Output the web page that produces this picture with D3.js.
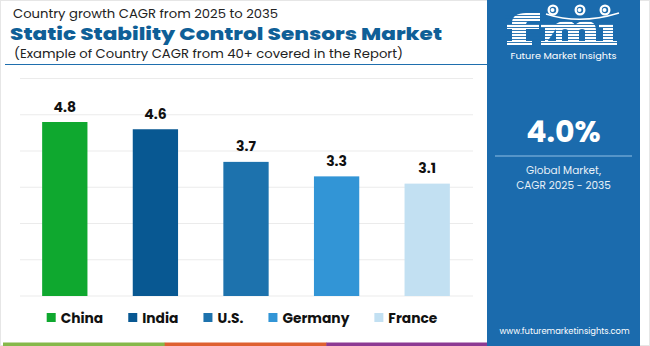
<!DOCTYPE html>
<html><head><meta charset="utf-8">
<script src="https://cdn.jsdelivr.net/npm/d3@7"></script>
<style>
html,body{margin:0;padding:0;background:#fff;}
svg{display:block;}
text{font-family:Poppins,Inter,"Open Sans",sans-serif;}
</style></head>
<body><svg id="c" width="650" height="346"></svg>
<script>
const categories = ["China", "India", "U.S.", "Germany", "France"];
const values = [4.8, 4.6, 3.7, 3.3, 3.1];
const colors = ["#0fa82f", "#085892", "#1d72ad", "#3295d6", "#c2e0f2"];
const yTicks = [0, 1, 2, 3, 4, 5, 6];
const titleTop = "Country growth CAGR from 2025 to 2035";
const title = "Static Stability Control Sensors Market";
const subtitle = "(Example of Country CAGR from 40+ covered in the Report)";
const globalValue = "4.0%";
const globalLabel = ["Global Market,", "CAGR 2025 - 2035"];
const stripColors = ["#86b84a", "#de6030", "#8c3a93"];

const svg = d3.select("#c");
const panelBlue = "#1b6bad";

// frame
svg.append("rect").attr("x",0.5).attr("y",0.5).attr("width",649).attr("height",345)
  .attr("fill","#fff").attr("stroke","#e6e6e6");

// bottom strip
const sx = d3.scaleBand().domain(stripColors).range([3,488]);
svg.selectAll("rect.strip").data(stripColors).join("rect").attr("class","strip")
  .attr("x",d=>sx(d)).attr("y",342.5).attr("width",sx.bandwidth()+0.5).attr("height",3.5)
  .attr("fill",d=>d);

// scales
const x = d3.scaleBand().domain(categories).range([19.5,472.5]).paddingInner(0.5).paddingOuter(0.25);
const y = d3.scaleLinear().domain([0,6]).range([296,78.5]);

// gridlines
svg.append("g").selectAll("line").data(yTicks).join("line")
  .attr("x1",20).attr("x2",473).attr("y1",d=>y(d)).attr("y2",d=>y(d))
  .attr("stroke","#ebebeb").attr("stroke-width",1);

// bars
svg.append("g").selectAll("rect").data(values).join("rect")
  .attr("x",(d,i)=>x(categories[i])).attr("width",x.bandwidth())
  .attr("y",d=>y(d)).attr("height",d=>y(0)-y(d))
  .attr("fill",(d,i)=>colors[i]);

// value labels
svg.append("g").selectAll("text").data(values).join("text")
  .attr("x",(d,i)=>x(categories[i])+x.bandwidth()/2).attr("y",d=>y(d)-10.5)
  .attr("text-anchor","middle").attr("font-size",14).attr("font-weight",700)
  .attr("fill","#111").text(d=>d.toFixed(1));

// titles
svg.append("text").attr("x",13).attr("y",17.5).attr("font-size",11.5).attr("fill","#222")
  .attr("textLength",265).attr("lengthAdjust","spacingAndGlyphs").text(titleTop);
svg.append("text").attr("x",10).attr("y",39.5).attr("font-size",17).attr("font-weight",800)
  .attr("fill","#0f5f97").attr("textLength",432).attr("lengthAdjust","spacingAndGlyphs").text(title);
svg.append("text").attr("x",14).attr("y",58).attr("font-size",11.5).attr("fill","#222")
  .attr("textLength",389).attr("lengthAdjust","spacingAndGlyphs").text(subtitle);
svg.append("line").attr("x1",5).attr("x2",487).attr("y1",64.5).attr("y2",64.5)
  .attr("stroke","#1f6fae").attr("stroke-width",1);

// legend
const lg = svg.append("g");
let lx = 46.7;
categories.forEach((c,i)=>{
  const g = lg.append("g");
  g.append("rect").attr("x",lx).attr("y",313).attr("width",9).attr("height",9).attr("fill",colors[i]);
  const t = g.append("text").attr("x",lx+14).attr("y",322.5).attr("font-size",13.8).attr("font-weight",700)
    .attr("fill","#111").text(c);
  const w = t.node().getComputedTextLength();
  lx += 14 + w + 25;
});

// right panel
const px0 = 487, px1 = 640, pcx = (px0+px1)/2;
svg.append("rect").attr("x",px0).attr("y",0).attr("width",px1-px0).attr("height",346).attr("fill",panelBlue);

// logo (graphic)
const logo = svg.append("g").attr("fill","#fff");
// f
logo.append("path").attr("d","M512,45 V23 Q512,13 526,13 H540 V21 H530 Q526,21 526,25 V45 Z");
logo.append("rect").attr("x",507).attr("y",24).attr("width",32).attr("height",5);
logo.append("rect").attr("x",507).attr("y",41).attr("width",25).attr("height",4);
// m
logo.append("path").attr("d","M545,45 V24 H556 Q560,21 566,21 Q573,21 575,25 Q579,21 586,21 Q596,21 596,30 V45 H585 V31 Q585,29 582,29 Q579,29 579,31 V45 H568 V31 Q568,29 565,29 Q562,29 562,31 V45 H556 V29 Z");
logo.append("rect").attr("x",541).attr("y",41).attr("width",59).attr("height",4);
logo.append("rect").attr("x",541).attr("y",24).attr("width",8).attr("height",4);
// i
logo.append("rect").attr("x",603).attr("y",24).attr("width",10).attr("height",21);
logo.append("rect").attr("x",599).attr("y",24).attr("width",8).attr("height",4);
logo.append("rect").attr("x",599).attr("y",41).attr("width",18).attr("height",4);
// stripes
logo.selectAll("line.s").data(d3.range(15.5, 45, 3)).join("line").attr("class","s")
  .attr("x1",505).attr("x2",620).attr("y1",d=>d).attr("y2",d=>d)
  .attr("stroke",panelBlue).attr("stroke-width",0.9);
// globes
[[553,10],[580,10],[605,10]].forEach(([cx,cy])=>{
  logo.append("circle").attr("cx",cx).attr("cy",cy).attr("r",5.5).attr("fill","#fff");
  logo.append("circle").attr("cx",cx).attr("cy",cy).attr("r",3.2).attr("fill",panelBlue);
  logo.append("circle").attr("cx",cx-0.5).attr("cy",cy).attr("r",2).attr("fill","#fff");
});
logo.append("path").attr("d","M546,14 Q580,25 619,13").attr("fill","none").attr("stroke","#fff").attr("stroke-width",1.4);
svg.append("text").attr("x",pcx).attr("y",58.5).attr("text-anchor","middle").attr("font-size",8.8)
  .attr("fill","#fff").attr("textLength",106).attr("lengthAdjust","spacingAndGlyphs").text("Future Market Insights");

svg.append("text").attr("x",pcx).attr("y",141.5).attr("text-anchor","middle").attr("font-size",30)
  .attr("font-weight",700).attr("fill","#fff").text(globalValue);
svg.append("line").attr("x1",495).attr("x2",632).attr("y1",156).attr("y2",156)
  .attr("stroke","#8fc0e6").attr("stroke-width",1.2);
globalLabel.forEach((t,i)=>{
  svg.append("text").attr("x",pcx).attr("y",174+i*15).attr("text-anchor","middle").attr("font-size",10.5)
    .attr("fill","#e8f1f8").text(t);
});
svg.append("text").attr("x",pcx+1).attr("y",334).attr("text-anchor","middle").attr("font-size",9.5)
  .attr("fill","#fff").attr("textLength",130).attr("lengthAdjust","spacingAndGlyphs").text("www.futuremarketinsights.com");
</script></body></html>
